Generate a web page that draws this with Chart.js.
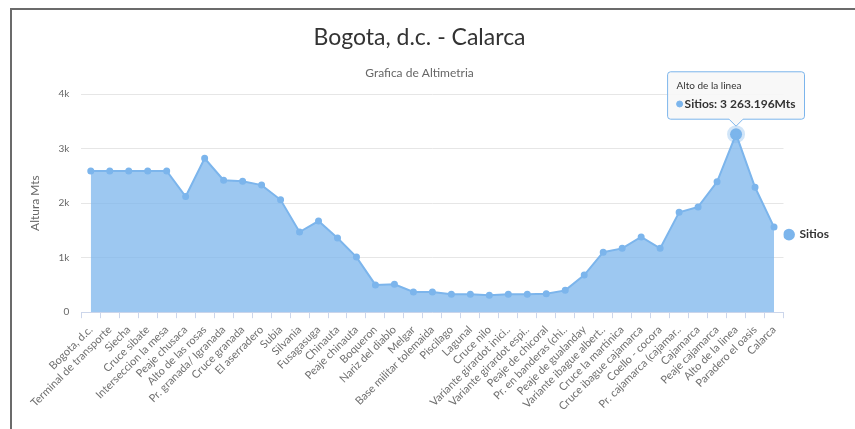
<!DOCTYPE html>
<html>
<head>
<meta charset="utf-8">
<script src="https://cdn.jsdelivr.net/npm/chart.js@4"></script>
<style>
  html, body { margin: 0; padding: 0; background: #fff; }
  #wrap { position: relative; width: 855px; height: 429px; }
</style>
</head>
<body>
<div id="wrap"><canvas id="myChart" width="855" height="429"></canvas></div>
<script>
// Sitios a lo largo de la ruta
const sitios = [
    'Bogota, d.c.', 'Terminal de transporte', 'Siecha', 'Cruce sibate', 'Interseccion la mesa',
    'Peaje chusaca', 'Alto de las rosas', 'Pr. granada/ Igranada', 'Cruce granada', 'El aserradero',
    'Subia', 'Silvania', 'Fusagasuga', 'Chinauta', 'Peaje chinauta',
    'Boqueron', 'Nariz del diablo', 'Melgar', 'Base militar tolemaida', 'Piscilago',
    'Lagunal', 'Cruce nilo', 'Variante girardot inici..', 'Variante girardot espi..', 'Peaje de chicoral',
    'Pr. en banderas (chi..', 'Peaje de gualanday', 'Variante ibague albert..', 'Cruce la martinica', 'Cruce ibague cajamarca',
    'Coello - cocora', 'Pr. cajamarca (cajamar..', 'Cajamarca', 'Peaje cajamarca', 'Alto de la linea',
    'Paradero el oasis', 'Calarca'
];

// Altura en metros
const alturas = [
    2590, 2590, 2590, 2590, 2590,
    2120, 2820, 2420, 2400, 2330,
    2060, 1470, 1670, 1360, 1010,
    500, 510, 370, 370, 330,
    330, 310, 330, 330, 340,
    400, 680, 1100, 1170, 1380,
    1170, 1830, 1930, 2390, 3263.196,
    2290, 1560
];

const yTicks = ['0', '1k', '2k', '3k', '4k'];
const puntoActivo = 34;

const azul = '#7cb5ec';
const fuente = 'Lato, "Open Sans", sans-serif';

function formatoMts(v) {
    const partes = v.toFixed(3).split('.');
    partes[0] = partes[0].replace(/\B(?=(\d{3})+(?!\d))/g, ' ');
    return partes.join('.') + 'Mts';
}

// marco alrededor del grafico
const marco = {
    id: 'marco',
    afterDraw(chart) {
        const ctx = chart.ctx;
        ctx.save();
        ctx.strokeStyle = '#6b6b6b';
        ctx.lineWidth = 2;
        ctx.beginPath();
        ctx.moveTo(11, 429);
        ctx.lineTo(11, 9);
        ctx.lineTo(855, 9);
        ctx.stroke();
        ctx.restore();
    }
};

const config = {
    type: 'line',
    data: {
        labels: sitios,
        datasets: [{
            label: 'Sitios',
            data: alturas,
            fill: 'origin',
            backgroundColor: 'rgba(124, 181, 236, 0.75)',
            borderColor: azul,
            borderWidth: 2,
            tension: 0,
            pointRadius: 2.5,
            pointBackgroundColor: azul,
            pointBorderColor: azul,
            pointHoverRadius: 6,
            pointHoverBackgroundColor: azul,
            pointHoverBorderColor: 'rgba(124, 181, 236, 0.35)',
            pointHoverBorderWidth: 6
        }]
    },
    options: {
        responsive: false,
        animation: false,
        events: [],
        layout: {
            padding: { left: 0, right: 16, top: 0, bottom: 11 }
        },
        scales: {
            x: {
                offset: true,
                grid: {
                    display: true,
                    offset: true,
                    drawOnChartArea: false,
                    drawTicks: true,
                    tickLength: 6,
                    color: '#ccd6eb'
                },
                border: { display: true, color: '#ccd6eb' },
                ticks: {
                    autoSkip: false,
                    maxRotation: 45,
                    minRotation: 45,
                    color: '#707070',
                    padding: 5,
                    font: { family: fuente, size: 11 }
                }
            },
            y: {
                min: 0,
                max: 4000,
                grid: { color: '#e6e6e6', drawTicks: false },
                border: { display: false },
                ticks: {
                    stepSize: 1000,
                    color: '#666',
                    padding: 12,
                    font: { family: fuente, size: 10 },
                    callback: (v) => yTicks[v / 1000]
                },
                title: {
                    display: true,
                    text: 'Altura Mts',
                    color: '#666',
                    font: { family: fuente, size: 12 },
                    padding: { top: 28, bottom: 4 }
                }
            }
        },
        plugins: {
            title: {
                display: true,
                text: 'Bogota, d.c. - Calarca',
                color: '#333',
                font: { family: fuente, size: 23, weight: 'normal' },
                padding: { top: 24, bottom: 14 }
            },
            subtitle: {
                display: true,
                text: 'Grafica de Altimetria',
                color: '#666',
                font: { family: fuente, size: 12 },
                padding: { top: 0, bottom: 14 }
            },
            legend: {
                position: 'right',
                title: {
                    display: true,
                    text: ' ',
                    font: { size: 1 },
                    padding: { top: 0, bottom: 50 }
                },
                labels: {
                    usePointStyle: true,
                    pointStyle: 'circle',
                    boxWidth: 9,
                    boxHeight: 7,
                    color: '#333',
                    padding: 1,
                    font: { family: fuente, size: 12, weight: 'bold' }
                }
            },
            tooltip: {
                enabled: true,
                yAlign: 'bottom',
                xAlign: 'center',
                backgroundColor: 'rgba(247, 247, 247, 0.9)',
                borderColor: azul,
                borderWidth: 1,
                cornerRadius: 3,
                caretSize: 7,
                caretPadding: 8,
                padding: { x: 9, y: 8 },
                titleColor: '#333',
                bodyColor: '#333',
                titleFont: { family: fuente, size: 10, weight: 'normal' },
                bodyFont: { family: fuente, size: 12, weight: 'bold' },
                titleMarginBottom: 5,
                usePointStyle: true,
                boxWidth: 6,
                boxHeight: 6,
                callbacks: {
                    label: (item) => 'Sitios: ' + formatoMts(item.parsed.y),
                    labelColor: () => ({ borderColor: azul, backgroundColor: azul }),
                    labelPointStyle: () => ({ pointStyle: 'circle', rotation: 0 })
                }
            }
        }
    },
    plugins: [marco]
};

// Crear grafico
const chart = new Chart(document.getElementById('myChart'), config);
const activo = [{ datasetIndex: 0, index: puntoActivo }];
chart.setActiveElements(activo);
chart.tooltip.setActiveElements(activo, { x: 0, y: 0 });
chart.update();
</script>
</body>
</html>
